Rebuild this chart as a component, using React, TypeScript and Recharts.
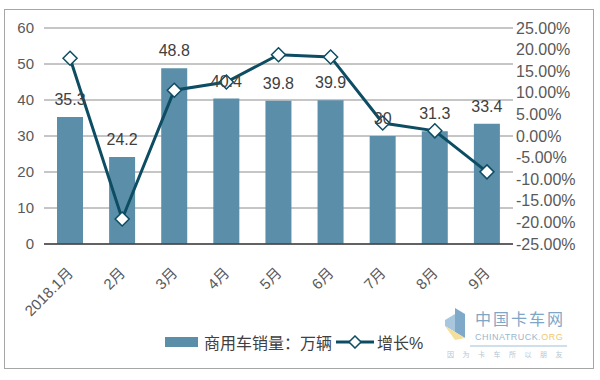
import React from "react";
import {
  ComposedChart,
  Bar,
  Line,
  XAxis,
  YAxis,
  CartesianGrid,
  Legend,
  LabelList,
} from "recharts";

const months = ["2018.1月", "2月", "3月", "4月", "5月", "6月", "7月", "8月", "9月"];
const sales = [35.3, 24.2, 48.8, 40.4, 39.8, 39.9, 30, 31.3, 33.4];
const growth = [18.0, -19.2, 10.6, 12.5, 18.8, 18.3, 3.0, 1.2, -8.3];
const salesTicks = [0, 10, 20, 30, 40, 50, 60];
const growthTicks = [-25, -20, -15, -10, -5, 0, 5, 10, 15, 20, 25];

const data = months.map((m, i) => ({ month: m, sales: sales[i], growth: growth[i] }));

const BAR = "#5b8ea8";
const LINE = "#0d4d63";
const FONT = "'Liberation Sans', Arial, 'Noto Sans CJK SC', sans-serif";

function Diamond(props: any) {
  const { cx, cy } = props;
  if (cx == null || cy == null) return null;
  const r = 7;
  return (
    <polygon
      points={`${cx},${cy - r} ${cx + r},${cy} ${cx},${cy + r} ${cx - r},${cy}`}
      fill="#fff"
      stroke={LINE}
      strokeWidth={1.5}
    />
  );
}

function MonthTick({ x, y, payload }: any) {
  const tx = x + 4;
  const ty = y + 28;
  return (
    <text
      x={tx}
      y={ty}
      transform={`rotate(-45 ${tx} ${ty})`}
      textAnchor="end"
      fill="#595959"
      fontSize={15}
      fontFamily={FONT}
    >
      {payload.value}
    </text>
  );
}

function LegendBox({ payload }: any) {
  return (
    <div style={{ display: "flex", alignItems: "center", fontSize: 16, color: "#404040", fontFamily: FONT }}>
      {(payload || []).map((p: any) =>
        p.type === "rect" ? (
          <span key={p.value} style={{ display: "flex", alignItems: "center", marginRight: 4 }}>
            <svg width={33} height={10} style={{ marginRight: 6 }}>
              <rect width={33} height={10} fill={BAR} />
            </svg>
            {p.value}
          </span>
        ) : (
          <span key={p.value} style={{ display: "flex", alignItems: "center" }}>
            <svg width={38} height={14} style={{ marginRight: 3 }}>
              <line x1={0} y1={7} x2={38} y2={7} stroke={LINE} strokeWidth={3} />
              <polygon points="19,1 25,7 19,13 13,7" fill="#fff" stroke={LINE} strokeWidth={1.5} />
            </svg>
            {p.value}
          </span>
        )
      )}
    </div>
  );
}

export default function App() {
  return (
    <div style={{ position: "absolute", left: 0, top: 0, width: 600, height: 380, background: "#fff", fontFamily: FONT }}>
      <div
        style={{
          position: "absolute",
          left: 4,
          top: 9,
          width: 590,
          height: 360,
          border: "1px solid #a6a6a6",
          boxSizing: "border-box",
        }}
      />
      <ComposedChart width={600} height={380} data={data} margin={{ top: 28, right: 0, bottom: 0, left: 0 }}>
        <CartesianGrid yAxisId="left" vertical={false} stroke="#8c8c8c" />
        <XAxis
          dataKey="month"
          height={136}
          interval={0}
          tick={<MonthTick />}
          tickLine={false}
          tickSize={0}
          axisLine={{ stroke: "#404040", strokeWidth: 1.5 }}
        />
        <YAxis
          yAxisId="left"
          domain={[0, 60]}
          ticks={salesTicks}
          interval={0}
          width={44}
          axisLine={false}
          tickLine={false}
          tickSize={0}
          tickMargin={10}
          tick={{ fill: "#595959", fontSize: 15, fontFamily: FONT }}
        />
        <YAxis
          yAxisId="right"
          orientation="right"
          domain={[-25, 25]}
          ticks={growthTicks}
          interval={0}
          width={87}
          axisLine={false}
          tickLine={false}
          tickSize={0}
          tickMargin={3}
          tick={{ fill: "#595959", fontSize: 16, fontFamily: FONT, textAnchor: "start" }}
          tickFormatter={(v: number) => `${v.toFixed(2)}%`}
        />
        <Legend
          layout="horizontal"
          verticalAlign="middle"
          align="center"
          wrapperStyle={{ top: 330, left: 165, width: 300 }}
          content={<LegendBox />}
          payload={[
            { value: "商用车销量：万辆", type: "rect", color: BAR },
            { value: "增长%", type: "line", color: LINE },
          ]}
        />
        <Bar yAxisId="left" dataKey="sales" name="商用车销量：万辆" fill={BAR} barSize={26} isAnimationActive={false}>
          <LabelList dataKey="sales" position="top" offset={12} fill="#404040" fontSize={16} fontFamily={FONT} />
        </Bar>
        <Line
          yAxisId="right"
          type="linear"
          dataKey="growth"
          name="增长%"
          stroke={LINE}
          strokeWidth={3}
          dot={<Diamond />}
          activeDot={false}
          isAnimationActive={false}
        />
      </ComposedChart>
      <div style={{ position: "absolute", left: 445, top: 306, width: 125, height: 56, pointerEvents: "none" }}>
        <svg width={125} height={56}>
          <polygon points="10,2 20,8 20,32 10,26" fill="#7fa9c9" />
          <polygon points="0,14 10,8 10,26 0,20" fill="#a8c7de" />
          <polygon points="0,20 10,26 20,32 10,34" fill="#f6df9a" />
          <line x1={25} y1={40} x2={122} y2={40} stroke="#9fc0d6" strokeWidth={1} />
        </svg>
        <div style={{ position: "absolute", left: 30, top: 3, fontSize: 16, lineHeight: "18px", letterSpacing: 2, color: "#7fa6c6", fontFamily: "'Noto Sans CJK SC'" }}>
          中国卡车网
        </div>
        <div style={{ position: "absolute", left: 30, top: 26, fontSize: 9, lineHeight: "10px", color: "#9bb6cc", letterSpacing: 0.5, whiteSpace: "nowrap" }}>
          CHINATRUCK<span style={{ color: "#f0c870" }}>.ORG</span>
        </div>
        <div style={{ position: "absolute", left: 2, top: 44, fontSize: 7, lineHeight: "8px", color: "#b5c6d4", letterSpacing: 8.5, whiteSpace: "nowrap", fontFamily: "'Noto Sans CJK SC'" }}>
          因为卡车所以朋友
        </div>
      </div>
    </div>
  );
}
